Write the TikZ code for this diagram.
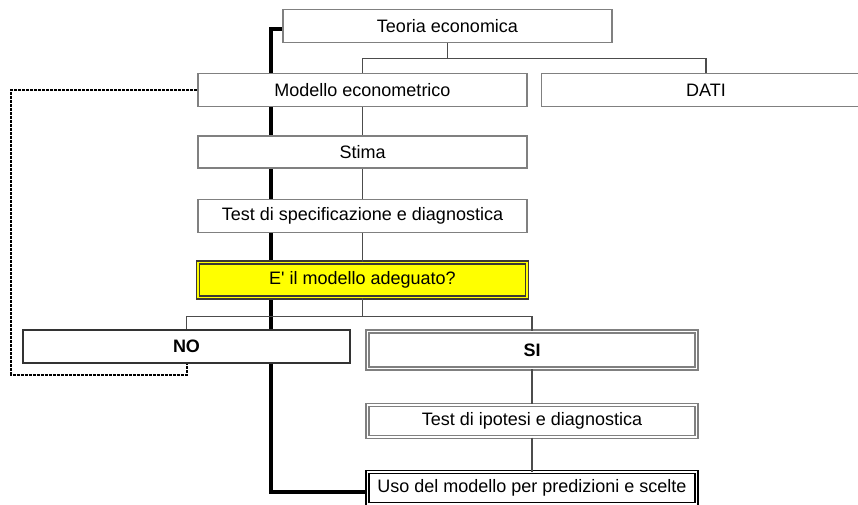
\documentclass[tikz,border=0pt]{standalone}
\usepackage{fontspec}
\setmainfont{Liberation Sans}
\usetikzlibrary{positioning, backgrounds}
\definecolor{boxgray}{gray}{0.5}
\definecolor{linkgray}{gray}{0.3}
\definecolor{askyellow}{RGB}{255,255,0}

\begin{document}
\begin{tikzpicture}[x=1pt, y=-1pt, node distance=64pt, every node/.style={fill=white, text centered, inner sep=0pt, minimum width=329pt, minimum height=33pt, font=\fontsize{18}{21}\selectfont}]

\def\datagap{279.5pt}

\tikzset{
  box/.style={draw=boxgray, line width=1.7pt},
  twinbox/.style={draw=boxgray, line width=1.3pt, double=white, double distance=1.6pt},
  blackbox/.style={draw=black, line width=1.3pt, double=white, double distance=1.6pt},
  askbox/.style={draw=black!80!yellow!60!black, line width=1.3pt, fill=askyellow, double=askyellow, double distance=1.6pt},
  answer/.style={draw=black!80, line width=1.2pt, font=\fontsize{18}{21}\selectfont\bfseries},
  link/.style={draw=linkgray, line width=1.3pt},
  spine/.style={draw=black, line width=4pt},
  loopback/.style={draw=black, line width=2pt, dash pattern=on 3pt off 1pt}
}

  \useasboundingbox (0,0) rectangle (858,505);

  % Nodes
  \node (modello) [box] at (362.5,90) {Modello econometrico};
  \node (teoria) [above of=modello, xshift=85pt, box] {Teoria economica};
  \node (dati) [right of=modello, xshift=\datagap, box] {DATI};
  \node (stima) [below of=modello, yshift=2pt, minimum height=32pt, box] {Stima};
  \node (spec) [below of=stima, box] {Test di specificazione e diagnostica};
  \node (adeguato) [below of=spec, minimum height=35pt, askbox] {E\textquotesingle{} il modello adeguato?};

  % Answers
  \node (no) [below of=adeguato, xshift=-176pt, yshift=-2.5pt, minimum width=327pt, answer] {NO};
  \node (si) [below of=adeguato, xshift=169.5pt, yshift=-6pt, minimum height=37pt, twinbox, font=\fontsize{18}{21}\selectfont\bfseries] {SI};
  \node (ipotesi) [below of=si, yshift=-7pt, minimum height=32pt, twinbox] {Test di ipotesi e diagnostica};
  \node (uso) [below of=ipotesi, yshift=-3pt, minimum height=31.5pt, blackbox] {Uso del modello per predizioni e scelte};

  % Links
  \draw[link] (teoria.south) -- ++(0,-15pt) -| (modello.north);
  \draw[link] (teoria.south) -- ++(0,-15pt) -| (dati.north);
  \draw[link] (modello.south) -- (stima.north);
  \draw[link] (stima.south) -- (spec.north);
  \draw[link] (spec.south) -- (adeguato.north);
  \draw[link] (adeguato.south) -- ++(0,-18pt) -| (no.north);
  \draw[link] (adeguato.south) -- ++(0,-18pt) -| (si.north);
  \draw[link] (si.south) -- (ipotesi.north);
  \draw[link] (ipotesi.south) -- (uso.north);

  % Back to the model
  \draw[loopback] (modello.west) -- ++(-186pt,0) |- ([yshift=-11pt]no.south) -- (no.south);

  % Main path
  \begin{pgfonlayer}{background}
    \draw[spine] ([yshift=-3pt]teoria.west) -- ++(-11pt,0) |- ([yshift=-4pt]uso.west);
  \end{pgfonlayer}

\end{tikzpicture}
\end{document}
